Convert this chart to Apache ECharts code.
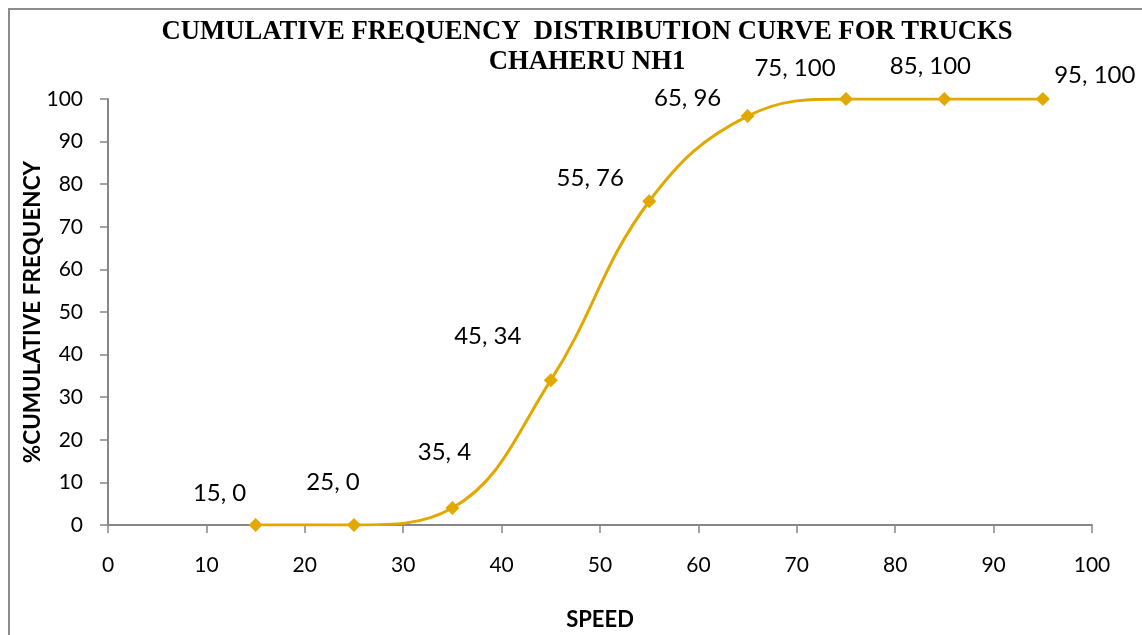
<!DOCTYPE html>
<html>
<head>
<meta charset="utf-8">
<title>Cumulative Frequency Distribution Curve for Trucks</title>
<script src="https://cdn.jsdelivr.net/npm/echarts@6/dist/echarts.min.js"></script>
<style>
  html, body { margin: 0; padding: 0; background: #fff; }
  #chart { width: 1142px; height: 635px; }
</style>
</head>
<body>
<div id="chart"></div>
<script>
// Speed classes (upper bounds) and cumulative percentage of trucks
const speeds = [15, 25, 35, 45, 55, 65, 75, 85, 95];
const cumulativePct = [0, 0, 4, 34, 76, 96, 100, 100, 100];
const xTicks = [0, 10, 20, 30, 40, 50, 60, 70, 80, 90, 100];
const yTicks = [0, 10, 20, 30, 40, 50, 60, 70, 80, 90, 100];

// Per-point label nudges (pixels from the marker centre)
const labelOffsets = [
  [-36, -32], [-21, -43], [-8, -56], [-63, -44], [-59, -23],
  [-60, -18], [-51, -31], [-14, -33], [52, -24]
];

const lineColor = '#E3A800';
const axisGray = '#868686';
const sansFont = 'Lato, "Open Sans", sans-serif';

const points = speeds.map((s, i) => ({
  value: [s, cumulativePct[i]],
  label: { offset: labelOffsets[i] }
}));

const chart = echarts.init(document.getElementById('chart'), null, { width: 1142, height: 635 });
chart.setOption({
  animation: false,
  backgroundColor: '#fff',
  title: {
    text: 'CUMULATIVE FREQUENCY  DISTRIBUTION CURVE FOR TRUCKS\nCHAHERU NH1',
    left: 582,
    top: 12,
    textAlign: 'center',
    textStyle: {
      fontFamily: '"Liberation Serif", "Times New Roman", serif',
      fontWeight: 'bold',
      fontSize: 26.7,
      lineHeight: 30,
      color: '#000'
    }
  },
  graphic: [{
    type: 'rect',
    shape: { x: 9, y: 9, width: 1160, height: 660 },
    style: { fill: 'none', stroke: '#8c8c8c', lineWidth: 2 },
    silent: true
  }],
  grid: {
    left: 108, width: 984, top: 99, height: 426,
    containLabel: false,
    outerBoundsMode: 'none'
  },
  xAxis: {
    type: 'value',
    min: xTicks[0],
    max: xTicks[xTicks.length - 1],
    interval: xTicks[1] - xTicks[0],
    name: 'SPEED',
    nameLocation: 'middle',
    nameGap: 84,
    nameMoveOverlap: false,
    nameTextStyle: { fontFamily: sansFont, fontWeight: 'bold', fontSize: 22, color: '#000' },
    axisLine: { show: true, lineStyle: { color: axisGray, width: 2 } },
    axisTick: { show: true, inside: false, length: 8, lineStyle: { color: axisGray, width: 1.5 } },
    axisLabel: { margin: 30, fontFamily: sansFont, fontSize: 21, color: '#000' },
    splitLine: { show: false }
  },
  yAxis: {
    type: 'value',
    min: yTicks[0],
    max: yTicks[yTicks.length - 1],
    interval: yTicks[1] - yTicks[0],
    name: '%CUMULATIVE FREQUENCY',
    nameLocation: 'middle',
    nameGap: 64,
    nameMoveOverlap: false,
    nameRotate: 90,
    nameTextStyle: { fontFamily: sansFont, fontWeight: 'bold', fontSize: 22.5, color: '#000' },
    axisLine: { show: true, lineStyle: { color: axisGray, width: 2 } },
    axisTick: { show: true, inside: false, length: 8, lineStyle: { color: axisGray, width: 1.5 } },
    axisLabel: { margin: 25, fontFamily: sansFont, fontSize: 21, color: '#000' },
    splitLine: { show: false }
  },
  series: [{
    type: 'line',
    data: points,
    smooth: 0.4,
    symbol: 'diamond',
    symbolSize: 14,
    lineStyle: { color: lineColor, width: 3 },
    itemStyle: { color: lineColor },
    label: {
      show: true,
      position: 'inside',
      align: 'center',
      verticalAlign: 'middle',
      fontFamily: sansFont,
      fontSize: 24,
      color: '#000',
      formatter: p => p.value[0] + ', ' + p.value[1]
    }
  }]
});
</script>
</body>
</html>
